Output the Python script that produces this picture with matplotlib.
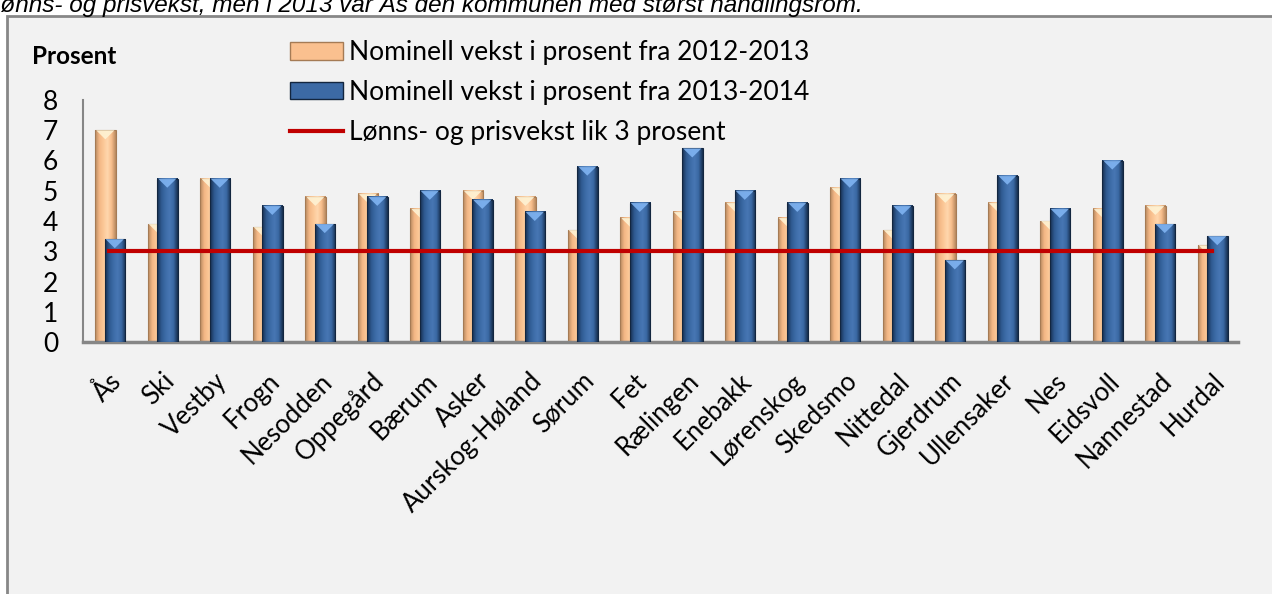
import matplotlib.pyplot as plt
import numpy as np
from matplotlib.patches import Rectangle, Polygon
from matplotlib.lines import Line2D

plt.rcParams['font.family'] = ['Lato', 'DejaVu Sans']

kommuner = ["Ås", "Ski", "Vestby", "Frogn", "Nesodden", "Oppegård", "Bærum", "Asker",
            "Aurskog-Høland", "Sørum", "Fet", "Rælingen", "Enebakk", "Lørenskog", "Skedsmo",
            "Nittedal", "Gjerdrum", "Ullensaker", "Nes", "Eidsvoll", "Nannestad", "Hurdal"]
vekst_2012_2013 = [7.0, 3.9, 5.4, 3.8, 4.8, 4.9, 4.4, 5.0, 4.8, 3.7, 4.1,
                   4.3, 4.6, 4.1, 5.1, 3.7, 4.9, 4.6, 4.0, 4.4, 4.5, 3.2]
vekst_2013_2014 = [3.4, 5.4, 5.4, 4.5, 3.9, 4.8, 5.0, 4.7, 4.3, 5.8, 4.6,
                   6.4, 5.0, 4.6, 5.4, 4.5, 2.7, 5.5, 4.4, 6.0, 3.9, 3.5]
lonn_pris = 3
etiketter = ["Nominell vekst i prosent fra 2012-2013",
             "Nominell vekst i prosent fra 2013-2014",
             "Lønns- og prisvekst lik 3 prosent"]

oransje = {"stops": ["#b98a60", "#f3b785", "#fcc796", "#ffd7ae", "#f7bd8b", "#b98a60"],
           "top": "#fff3d4", "edge": "#a57b55", "fill": "#fac08f"}
blaa = {"stops": ["#172f50", "#2f5a90", "#3c6ba7", "#4877b4", "#3a68a2", "#172f50"],
        "top": "#80b4f2", "edge": "#13263f", "fill": "#3c6aa5"}


def gradient(stops, n=40):
    rgb = np.array([plt.matplotlib.colors.to_rgb(c) for c in stops])
    pos = np.linspace(0, 1, len(stops))
    t = np.linspace(0, 1, n)
    return np.stack([np.interp(t, pos, rgb[:, k]) for k in range(3)], axis=1)[None, :, :]


def bar3d(ax, x, h, w, stil, z):
    x0, x1 = x - w / 2, x + w / 2
    ax.imshow(gradient(stil["stops"]), extent=(x0, x1, 0, h), aspect='auto',
              interpolation='bilinear', zorder=z)
    ax.add_patch(Rectangle((x0, 0), w, h, fill=False, ec=stil["edge"], lw=0.8, zorder=z + 0.1))
    d = min(0.3, h)
    ax.add_patch(Polygon([(x0 + 0.02, h), (x1 - 0.02, h), (x, h - d)], closed=True,
                         fc=stil["top"], ec='none', alpha=0.9, zorder=z + 0.2))


fig = plt.figure(figsize=(12.72, 5.94), dpi=100)
fig.patches.append(Rectangle((7 / 1272, -0.1), 1.1, 1.1 - 16 / 594, transform=fig.transFigure,
                             fc='#f2f2f2', ec='#878787', lw=2, zorder=-10))
fig.text(-0.004, 1 - 12 / 594, "lønns- og prisvekst, men i 2013 var Ås den kommunen med størst handlingsrom.",
         family='Liberation Sans', style='italic', fontsize=17.5, va='baseline', ha='left')

ax = fig.add_axes([83 / 1272, 252 / 594, 1155 / 1272, 242 / 594])
ax.patch.set_visible(False)

x = np.arange(len(kommuner))
w = 0.39
for i in range(len(kommuner)):
    bar3d(ax, x[i] - 0.075, vekst_2012_2013[i], w, oransje, 2)
    bar3d(ax, x[i] + 0.105, vekst_2013_2014[i], w, blaa, 3)

ax.plot([x[0], x[-1]], [lonn_pris, lonn_pris], color='#c00000', lw=3, zorder=5)

ax.set_xlim(-0.5, len(kommuner) - 0.5)
ax.set_ylim(0, 8)
ax.set_yticks(range(9))
ax.tick_params(axis='y', length=0, labelsize=19, pad=18)
ax.set_xticks(x)
ax.set_xticklabels(kommuner, rotation=45, ha='right', rotation_mode='anchor', fontsize=18.5)
ax.tick_params(axis='x', length=0, pad=19)
for s in ['top', 'right']:
    ax.spines[s].set_visible(False)
ax.spines['left'].set_color('#868686')
ax.spines['left'].set_linewidth(1.5)
ax.spines['bottom'].set_color('#868686')
ax.spines['bottom'].set_linewidth(2.5)

fig.text(32 / 1272, 1 - 57 / 594, "Prosent", fontsize=17.5, fontweight='bold', va='center')

handles = [Rectangle((0, 0), 1, 1, fc=oransje["fill"], ec=oransje["edge"]),
           Rectangle((0, 0), 1, 1, fc=blaa["fill"], ec=blaa["edge"]),
           Line2D([], [], color='#c00000', lw=3)]
fig.legend(handles, etiketter, loc='upper left', bbox_to_anchor=(290 / 1272, 1 - 40 / 594),
           frameon=False, fontsize=19, handlelength=2.0, handleheight=0.65, handletextpad=0.22,
           labelspacing=0.56, borderpad=0, borderaxespad=0)

fig.savefig('out.png', dpi=100)
